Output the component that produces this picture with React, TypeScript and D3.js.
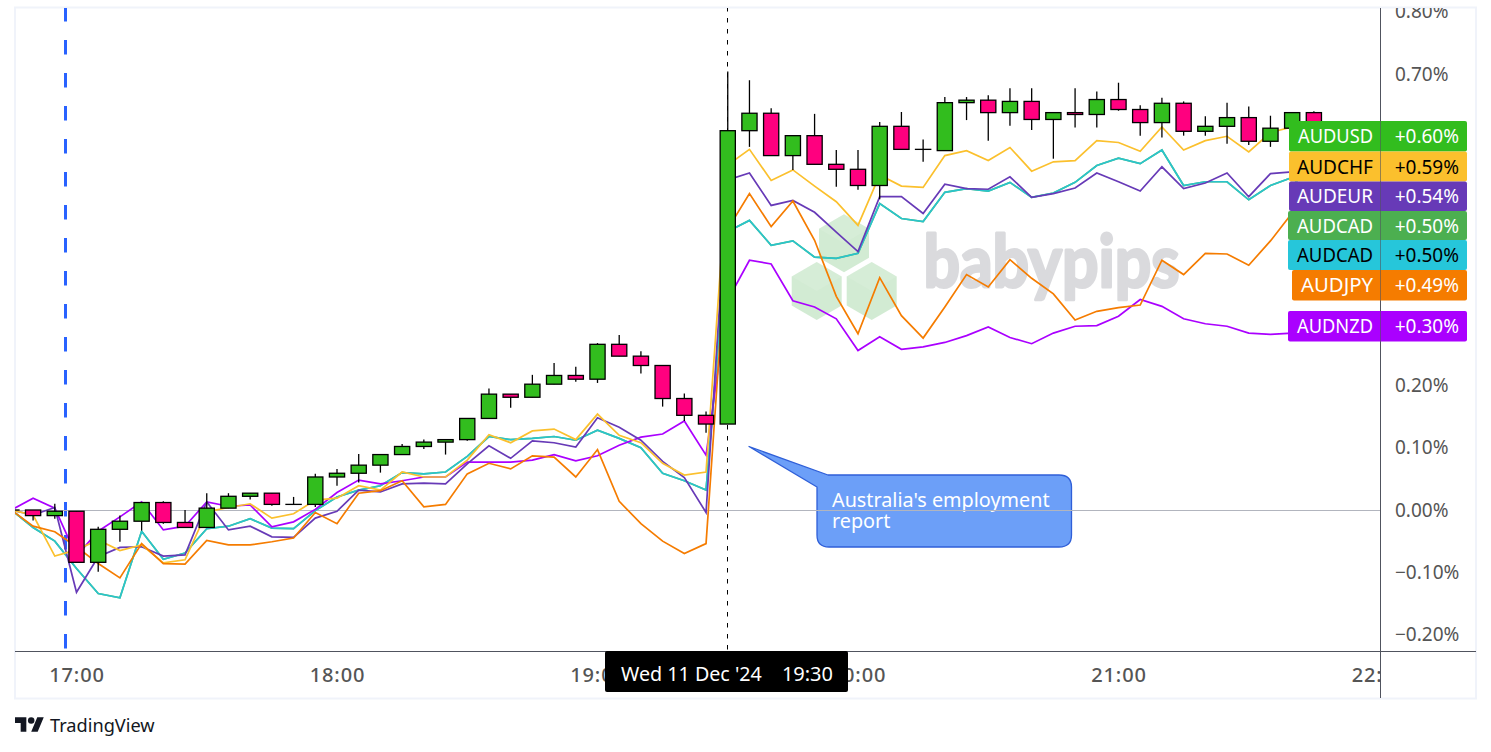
import React, { useEffect, useRef } from 'react';
import * as d3 from 'd3';

// 5 minute bars, index 3 is 17:00. All values in percent.
const opens = [0, 0, -0.009, -0.002, -0.084, -0.031, -0.018, 0.012, -0.02, -0.028, 0.003, 0.022, 0.027, 0.009, 0.009, 0.053, 0.059, 0.072, 0.089, 0.102, 0.109, 0.113, 0.147, 0.186, 0.181, 0.202, 0.216, 0.21, 0.266, 0.247, 0.232, 0.179, 0.152, 0.138, 0.609, 0.637, 0.569, 0.601, 0.555, 0.547, 0.521, 0.616, 0.579, 0.577, 0.654, 0.658, 0.638, 0.656, 0.627, 0.638, 0.635, 0.659, 0.643, 0.622, 0.653, 0.608, 0.616, 0.63, 0.592, 0.613, 0.638];
const highs = [0, 0, 0.01, -0.002, -0.027, -0.009, 0.012, 0.014, 0, 0.027, 0.027, 0.027, 0.027, 0.021, 0.058, 0.066, 0.09, 0.089, 0.106, 0.113, 0.113, 0.147, 0.195, 0.186, 0.217, 0.236, 0.23, 0.268, 0.281, 0.255, 0.232, 0.187, 0.158, 0.704, 0.69, 0.645, 0.601, 0.636, 0.578, 0.578, 0.623, 0.639, 0.595, 0.663, 0.663, 0.666, 0.677, 0.677, 0.638, 0.677, 0.672, 0.686, 0.65, 0.662, 0.656, 0.632, 0.654, 0.648, 0.633, 0.638, 0.64];
const lows = [0, -0.017, -0.014, -0.084, -0.099, -0.051, -0.033, -0.022, -0.028, -0.028, 0.003, 0.017, 0.007, 0.009, 0.005, 0.039, 0.044, 0.06, 0.089, 0.098, 0.089, 0.111, 0.147, 0.164, 0.181, 0.202, 0.206, 0.204, 0.247, 0.219, 0.166, 0.143, 0.124, 0.138, 0.583, 0.569, 0.546, 0.555, 0.519, 0.514, 0.499, 0.579, 0.559, 0.577, 0.626, 0.593, 0.617, 0.61, 0.564, 0.614, 0.614, 0.641, 0.601, 0.598, 0.601, 0.601, 0.588, 0.586, 0.583, 0.613, 0.6];
const closes = [0, -0.009, -0.002, -0.084, -0.031, -0.018, 0.012, -0.02, -0.028, 0.003, 0.022, 0.027, 0.009, 0.009, 0.053, 0.059, 0.072, 0.089, 0.102, 0.109, 0.113, 0.147, 0.186, 0.181, 0.202, 0.216, 0.21, 0.266, 0.247, 0.232, 0.179, 0.152, 0.138, 0.609, 0.637, 0.569, 0.601, 0.555, 0.547, 0.521, 0.616, 0.579, 0.579, 0.654, 0.658, 0.638, 0.656, 0.627, 0.638, 0.635, 0.659, 0.643, 0.622, 0.653, 0.608, 0.616, 0.63, 0.592, 0.613, 0.638, 0.6];

const audnzd = [0, 0.019, 0.003, -0.074, -0.034, -0.011, 0.013, -0.032, -0.026, 0.013, 0.006, 0.008, -0.027, -0.019, 0.001, 0.028, 0.048, 0.042, 0.047, 0.053, 0.053, 0.077, 0.077, 0.077, 0.08, 0.089, 0.079, 0.087, 0.104, 0.117, 0.122, 0.143, 0.088, 0.337, 0.401, 0.395, 0.336, 0.326, 0.307, 0.256, 0.278, 0.258, 0.262, 0.269, 0.28, 0.294, 0.277, 0.267, 0.284, 0.295, 0.296, 0.311, 0.338, 0.327, 0.307, 0.299, 0.295, 0.284, 0.282, 0.284, 0.3];
const audeur = [0, -0.008, 0.004, -0.132, -0.075, -0.06, -0.059, -0.074, -0.072, 0.013, -0.032, -0.026, -0.043, -0.044, -0.013, -0.002, 0.032, 0.029, 0.042, 0.043, 0.042, 0.074, 0.103, 0.083, 0.111, 0.108, 0.101, 0.148, 0.133, 0.112, 0.078, 0.052, -0.004, 0.53, 0.541, 0.489, 0.497, 0.478, 0.446, 0.415, 0.503, 0.503, 0.476, 0.523, 0.516, 0.515, 0.535, 0.502, 0.508, 0.517, 0.541, 0.527, 0.512, 0.551, 0.516, 0.525, 0.541, 0.503, 0.54, 0.543, 0.54];
const audchf = [0, -0.008, -0.074, -0.064, -0.048, -0.065, -0.056, -0.085, -0.08, -0.003, 0.004, 0.01, -0.013, -0.006, 0.016, 0.019, 0.039, 0.032, 0.061, 0.053, 0.053, 0.08, 0.121, 0.108, 0.127, 0.13, 0.113, 0.154, 0.12, 0.108, 0.075, 0.056, 0.061, 0.554, 0.579, 0.529, 0.546, 0.52, 0.495, 0.457, 0.538, 0.52, 0.518, 0.569, 0.577, 0.561, 0.582, 0.544, 0.559, 0.561, 0.593, 0.59, 0.576, 0.615, 0.578, 0.593, 0.6, 0.575, 0.606, 0.615, 0.59];
const audcad = [0, -0.028, -0.05, -0.094, -0.134, -0.141, -0.034, -0.079, -0.069, -0.03, -0.026, -0.014, -0.029, -0.03, -0.001, 0.021, 0.032, 0.039, 0.06, 0.058, 0.061, 0.086, 0.118, 0.113, 0.115, 0.118, 0.112, 0.128, 0.115, 0.1, 0.059, 0.047, 0.032, 0.447, 0.465, 0.425, 0.432, 0.406, 0.404, 0.412, 0.492, 0.468, 0.463, 0.51, 0.516, 0.512, 0.526, 0.502, 0.509, 0.526, 0.553, 0.565, 0.556, 0.578, 0.521, 0.527, 0.527, 0.498, 0.521, 0.534, 0.5];
const audjpy = [0, -0.026, -0.035, -0.059, -0.086, -0.109, -0.054, -0.086, -0.087, -0.049, -0.056, -0.056, -0.051, -0.045, -0.004, -0.022, 0.027, 0.031, 0.047, 0.005, 0.009, 0.058, 0.075, 0.066, 0.087, 0.085, 0.053, 0.097, 0.014, -0.022, -0.05, -0.07, -0.054, 0.451, 0.508, 0.455, 0.496, 0.433, 0.343, 0.283, 0.373, 0.312, 0.276, 0.326, 0.378, 0.358, 0.402, 0.372, 0.347, 0.305, 0.319, 0.325, 0.329, 0.401, 0.378, 0.412, 0.411, 0.393, 0.432, 0.477, 0.49];

const priceTicks = [-0.2, -0.1, 0, 0.1, 0.2, 0.3, 0.4, 0.5, 0.6, 0.7, 0.8];
const hourTicks = [3, 15, 27, 39, 51, 63];
const hourLabels = ['17:00', '18:00', '19:00', '20:00', '21:00', '22:00'];

const labelNames = ['AUDUSD', 'AUDCHF', 'AUDEUR', 'AUDCAD', 'AUDCAD', 'AUDJPY', 'AUDNZD'];
const labelValues = ['+0.60%', '+0.59%', '+0.54%', '+0.50%', '+0.50%', '+0.49%', '+0.30%'];

const GREEN = '#32bd1e';
const PINK = '#ff007f';
const FONT = '"Noto Sans", sans-serif';

const App: React.FC = () => {
  const svgRef = useRef<SVGSVGElement | null>(null);

  useEffect(() => {
    const svg = d3.select(svgRef.current);
    svg.selectAll('*').remove();

    const x = d3.scaleLinear().domain([3, 63]).range([76.5, 1379]);
    const y = d3.scaleLinear().domain([0, 0.7]).range([510, 74]);

    const defs = svg.append('defs');
    defs.append('clipPath').attr('id', 'plot').append('rect')
      .attr('x', 15).attr('y', 8).attr('width', 1365).attr('height', 643);
    defs.append('clipPath').attr('id', 'timeClip').append('rect')
      .attr('x', 15).attr('y', 652).attr('width', 1365).attr('height', 46);
    defs.append('clipPath').attr('id', 'priceClip').append('rect')
      .attr('x', 1381).attr('y', 8).attr('width', 94).attr('height', 643);

    // frame
    svg.append('rect').attr('x', 15).attr('y', 7.5).attr('width', 1461).attr('height', 691)
      .attr('fill', '#fff').attr('stroke', '#f0f3fa').attr('stroke-width', 2);

    const plot = svg.append('g').attr('clip-path', 'url(#plot)');

    // watermark sits under the series
    const mark = plot.append('g');
    const cube = (cx: number, cy: number) => {
      const w = 25, h = 29;
      const g = mark.append('g').attr('fill', '#4caf50');
      g.append('path')
        .attr('d', `M${cx},${cy - h} L${cx + w},${cy - h / 2} V${cy + h / 2} L${cx},${cy + h} L${cx - w},${cy + h / 2} V${cy - h / 2} Z`)
        .attr('opacity', 0.25);
      g.append('path')
        .attr('d', `M${cx},${cy - h} L${cx + w},${cy - h / 2} L${cx},${cy} L${cx - w},${cy - h / 2} Z`)
        .attr('fill', '#fff').attr('opacity', 0.1);
    };
    cube(844, 243.3);
    cube(816.7, 291);
    cube(871.7, 291);
    mark.append('text').attr('x', 923.5).attr('y', 287)
      .attr('textLength', 256).attr('lengthAdjust', 'spacingAndGlyphs')
      .attr('font-family', 'Lato, sans-serif').attr('font-weight', 700).attr('font-size', 72)
      .attr('fill', '#787b86').attr('stroke', '#787b86').attr('stroke-width', 3).attr('stroke-linejoin', 'round')
      .attr('opacity', 0.27).text('babypips');

    // callout sits under the zero line
    const callout = plot.append('g');
    callout.append('path')
      .attr('d', 'M749,446.5 L828,475 H1059 Q1071.5,475 1071.5,487 V535 Q1071.5,547 1059,547 H829 Q817,547 817,535 V487 Z')
      .attr('fill', '#6c9ff8').attr('stroke', '#2f5fd8').attr('stroke-width', 1.3).attr('stroke-linejoin', 'round');
    callout.append('text').attr('x', 832).attr('y', 507).text("Australia's employment");
    callout.append('text').attr('x', 832).attr('y', 528).text('report');
    callout.selectAll('text').attr('fill', '#fff').attr('font-family', FONT).attr('font-size', 19.8);

    // blue session line
    plot.append('line').attr('x1', 65.5).attr('x2', 65.5).attr('y1', 7).attr('y2', 651)
      .attr('stroke', '#2962ff').attr('stroke-width', 3).attr('stroke-dasharray', '14.5 18.5');

    plot.append('line').attr('x1', 15).attr('x2', 1380).attr('y1', y(0) + 0.5).attr('y2', y(0) + 0.5)
      .attr('stroke', '#b2b5be').attr('stroke-width', 1);

    // crosshair goes behind the candles
    plot.append('line').attr('x1', 727.5).attr('x2', 727.5).attr('y1', 7).attr('y2', 651)
      .attr('stroke', '#000').attr('stroke-width', 1).attr('stroke-dasharray', '4.5 6.5');

    const line = d3.line<number>().x((_d, i) => x(i)).y(d => y(d));
    const lineSeries: [number[], string, number][] = [
      [audcad, '#4caf50', 1],
      [audcad, '#26c6da', 0.9],
      [audnzd, '#aa00ff', 1],
      [audeur, '#673ab7', 1],
      [audchf, '#fbc02d', 1],
      [audjpy, '#f57c00', 1],
    ];
    plot.selectAll('path.series').data(lineSeries).enter().append('path')
      .attr('class', 'series')
      .attr('d', d => line(d[0]))
      .attr('fill', 'none')
      .attr('stroke', d => d[1])
      .attr('stroke-opacity', d => d[2])
      .attr('stroke-width', 1.7);

    // candles
    const bodyW = 15.2;
    const candles = plot.selectAll('g.candle').data(d3.range(opens.length)).enter().append('g').attr('class', 'candle');
    candles.append('line')
      .attr('x1', i => x(i)).attr('x2', i => x(i))
      .attr('y1', i => y(highs[i])).attr('y2', i => y(lows[i]))
      .attr('stroke', '#000').attr('stroke-width', 1.3);
    candles.append('rect')
      .attr('x', i => x(i) - bodyW / 2)
      .attr('y', i => y(Math.max(opens[i], closes[i])))
      .attr('width', bodyW)
      .attr('height', i => Math.max(Math.abs(y(opens[i]) - y(closes[i])), 0.01))
      .attr('fill', i => closes[i] >= opens[i] ? GREEN : PINK)
      .attr('stroke', '#000').attr('stroke-width', 1.3);

    // axes
    const priceAxis = svg.append('g').attr('clip-path', 'url(#priceClip)').append('g')
      .attr('transform', 'translate(1380,0)')
      .call(d3.axisRight(y).tickValues(priceTicks).tickSize(0).tickPadding(15)
        .tickFormat(d => `${(+d).toFixed(2).replace('-', '\u2212')}%`));
    priceAxis.select('.domain').remove();
    priceAxis.selectAll('text').attr('fill', '#555')
      .attr('font-family', FONT).attr('font-size', 19);

    const timeAxis = svg.append('g').attr('clip-path', 'url(#timeClip)').append('g')
      .attr('transform', 'translate(0,651)')
      .call(d3.axisBottom(x).tickValues(hourTicks).tickSize(0).tickPadding(17)
        .tickFormat((_d, i) => hourLabels[i]));
    timeAxis.select('.domain').remove();
    timeAxis.selectAll('text').attr('fill', '#555').attr('font-family', FONT)
      .attr('font-size', 20).attr('font-weight', 500).attr('letter-spacing', 0.9);

    svg.append('line').attr('x1', 15).attr('x2', 1476).attr('y1', 651.5).attr('y2', 651.5)
      .attr('stroke', '#50535e').attr('stroke-width', 1);
    svg.append('line').attr('x1', 1380.5).attr('x2', 1380.5).attr('y1', 8).attr('y2', 698)
      .attr('stroke', '#50535e').attr('stroke-width', 1);

    // last value labels
    const tops = [121, 151.5, 181.5, 211, 240, 270, 311];
    const bottoms = [151.5, 181.5, 211, 240, 270, 300.5, 341.5];
    const lefts = [1289, 1289, 1289, 1288, 1288, 1292, 1288];
    const nameWidths = [75, 76, 76, 76, 76, 72, 76];
    const fills = [GREEN, '#fbc02d', '#673ab7', '#4caf50', '#26c6da', '#f57c00', '#aa00ff'];
    const inks = ['#fff', '#000', '#fff', '#fff', '#000', '#fff', '#fff'];
    const tags = svg.selectAll('g.tag').data(labelNames).enter().append('g').attr('class', 'tag');
    tags.append('rect')
      .attr('x', (_d, i) => lefts[i]).attr('y', (_d, i) => tops[i])
      .attr('width', (_d, i) => 1467 - lefts[i]).attr('height', (_d, i) => bottoms[i] - tops[i])
      .attr('rx', 2).attr('fill', (_d, i) => fills[i]);
    tags.append('line').attr('x1', 1380.5).attr('x2', 1380.5)
      .attr('y1', (_d, i) => tops[i]).attr('y2', (_d, i) => bottoms[i])
      .attr('stroke', '#50535e').attr('stroke-opacity', 0.6);
    tags.append('text').attr('x', 1373).attr('text-anchor', 'end')
      .attr('textLength', (_d, i) => nameWidths[i]).attr('lengthAdjust', 'spacingAndGlyphs').text(d => d);
    tags.append('text').attr('x', 1459).attr('text-anchor', 'end').text((_d, i) => labelValues[i]);
    tags.each(function (_d, i) {
      d3.select(this).selectAll('text')
        .attr('y', (tops[i] + bottoms[i]) / 2 + 7)
        .attr('fill', inks[i]).attr('font-family', FONT).attr('font-size', 19);
    });

    // crosshair time tag
    svg.append('rect').attr('x', 605).attr('y', 651).attr('width', 243).attr('height', 41).attr('rx', 2).attr('fill', '#000');
    svg.append('text').attr('x', 621).attr('y', 681).attr('fill', '#fff').attr('font-family', FONT).attr('font-size', 19.7).text("Wed 11 Dec '24");
    svg.append('text').attr('x', 833).attr('y', 681).attr('text-anchor', 'end').attr('fill', '#fff').attr('font-family', FONT).attr('font-size', 20).text('19:30');

    // TradingView footer
    const logo = svg.append('g').attr('transform', 'translate(15,714) scale(0.81)').attr('fill', '#131722');
    logo.append('path').attr('d', 'M14 22H7V11H0V4h14v18zM28 22h-8l7.5-18h8L28 22z');
    logo.append('circle').attr('cx', 20).attr('cy', 8).attr('r', 4);
    svg.append('text').attr('x', 50).attr('y', 732).attr('fill', '#131722')
      .attr('font-family', FONT).attr('font-size', 18.2).text('TradingView');
  }, []);

  return <svg ref={svgRef} width={1491} height={752} style={{ position: 'absolute', left: 0, top: 0, background: '#fff' }} />;
};

export default App;
